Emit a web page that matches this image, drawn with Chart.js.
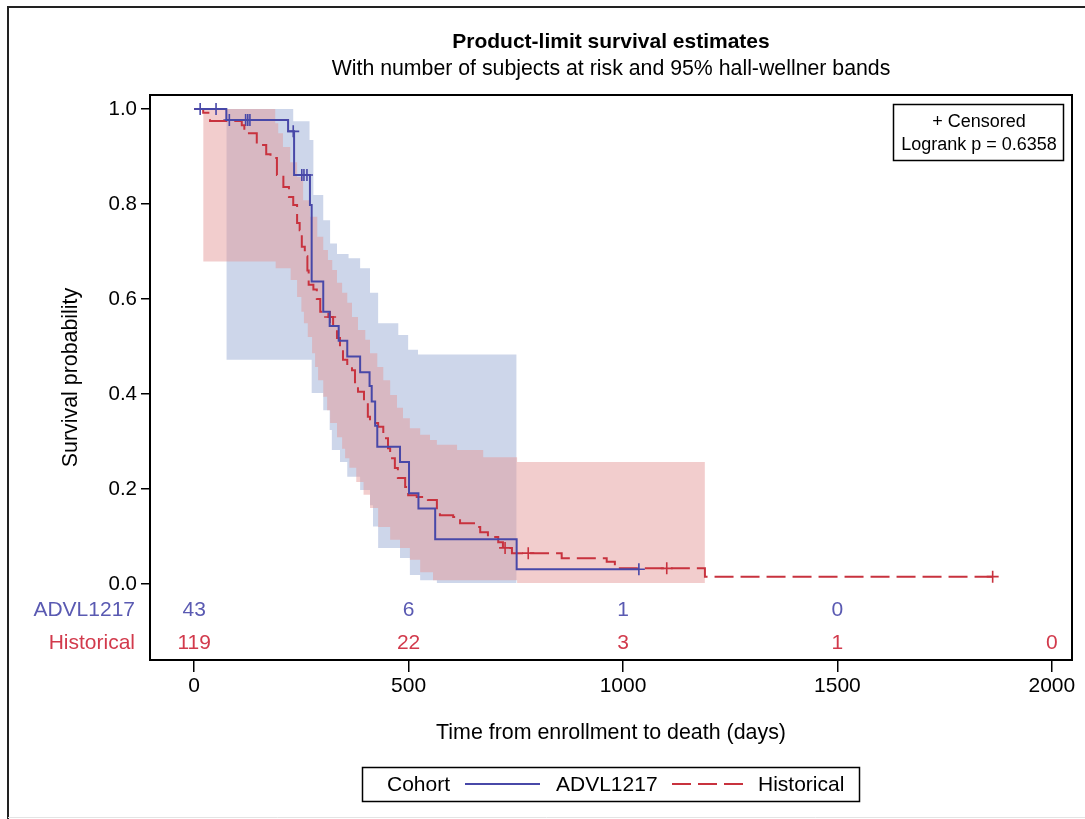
<!DOCTYPE html>
<html><head><meta charset="utf-8">
<script src="https://cdn.jsdelivr.net/npm/chart.js@4"></script>
<style>html,body{margin:0;padding:0;background:#fff;}#wrap{width:1085px;height:819px;}</style>
</head><body><div id="wrap"><canvas id="c" width="1085" height="819" style="width:1085px;height:819px"></canvas></div>
<script>
// ---- data ----
const xTicks = [0, 500, 1000, 1500, 2000];
const yTicks = [0, 0.2, 0.4, 0.6, 0.8, 1.0];
const riskTimes = [0, 500, 1000, 1500, 2000];
const riskADVL = [43, 6, 1, 0, null];
const riskHist = [119, 22, 3, 1, 0];

const advlTime = [0, 75, 219, 233, 270, 274, 301, 316, 337, 357, 387, 409, 414, 422, 427, 480, 501, 523, 562, 752, 1037];
const advlSurv = [1.0, 0.977, 0.953, 0.861, 0.798, 0.637, 0.573, 0.543, 0.512, 0.479, 0.446, 0.417, 0.384, 0.333, 0.289, 0.257, 0.191, 0.159, 0.094, 0.031, 0.031];
const advlCensTime = [14, 51, 82, 120, 125, 130, 231, 251, 256, 263, 1037];
const advlCensSurv = [1.0, 1.0, 0.977, 0.977, 0.977, 0.977, 0.953, 0.861, 0.861, 0.861, 0.031];

const histTime = [0, 21, 37, 111, 117, 146, 168, 178, 193, 208, 221, 231, 240, 246, 251, 258, 264, 267, 278, 286, 294, 313, 324, 333, 340, 347, 357, 368, 375, 382, 396, 405, 410, 429, 441, 452, 457, 468, 475, 492, 499, 519, 545, 566, 573, 604, 620, 655, 667, 685, 709, 720, 741, 857, 962, 981, 1191, 1862];
const histSurv = [1.0, 0.992, 0.975, 0.966, 0.949, 0.924, 0.905, 0.897, 0.861, 0.836, 0.815, 0.798, 0.76, 0.745, 0.71, 0.69, 0.66, 0.63, 0.62, 0.60, 0.573, 0.562, 0.539, 0.518, 0.493, 0.472, 0.461, 0.45, 0.425, 0.405, 0.383, 0.352, 0.339, 0.331, 0.307, 0.286, 0.265, 0.244, 0.223, 0.204, 0.187, 0.183, 0.177, 0.152, 0.145, 0.141, 0.128, 0.12, 0.109, 0.099, 0.088, 0.076, 0.065, 0.054, 0.047, 0.033, 0.0155, 0.0155];
const histCensTime = [317, 725, 779, 1102, 1862];
const histCensSurv = [0.562, 0.076, 0.065, 0.033, 0.0155];

const advlBandUpTime = [75, 231, 269, 278, 301, 317, 333, 360, 387, 410, 429, 476, 499, 522, 752];
const advlBandUp = [1.0, 0.974, 0.935, 0.819, 0.766, 0.717, 0.695, 0.686, 0.665, 0.613, 0.549, 0.524, 0.493, 0.483, 0.483];
const advlBandLoTime = [75, 274, 301, 316, 321, 340, 357, 387, 410, 417, 429, 480, 503, 527, 566, 752];
const advlBandLo = [0.472, 0.402, 0.366, 0.324, 0.282, 0.257, 0.226, 0.198, 0.166, 0.121, 0.076, 0.055, 0.019, 0.008, 0.002, 0.002];

const histBandUpTime = [21, 189, 196, 207, 224, 240, 254, 270, 287, 301, 312, 322, 333, 345, 357, 368, 382, 399, 410, 427, 441, 457, 473, 487, 503, 527, 550, 566, 613, 674, 753, 1191];
const histBandUp = [1.0, 0.97, 0.949, 0.92, 0.888, 0.857, 0.808, 0.773, 0.731, 0.703, 0.682, 0.661, 0.634, 0.613, 0.592, 0.562, 0.535, 0.514, 0.486, 0.457, 0.429, 0.398, 0.371, 0.349, 0.328, 0.314, 0.303, 0.293, 0.282, 0.267, 0.257, 0.257];
const histBandLoTime = [21, 190, 225, 240, 250, 256, 265, 275, 282, 289, 301, 310, 317, 333, 345, 352, 362, 378, 395, 410, 429, 457, 480, 503, 527, 557, 753, 1191];
const histBandLo = [0.679, 0.665, 0.64, 0.604, 0.573, 0.549, 0.52, 0.486, 0.457, 0.429, 0.394, 0.366, 0.339, 0.309, 0.285, 0.265, 0.245, 0.215, 0.188, 0.16, 0.12, 0.093, 0.076, 0.051, 0.025, 0.008, 0.002, 0.002];

// ---- styles ----
const FONT = "'Liberation Sans', Arial, Helvetica, sans-serif";
const BLUE = '#4848A8';
const RED = '#C8323E';
const BLUE_TXT = '#5A5AB2';
const RED_TXT = '#D23A4C';
const BLUE_BAND = 'rgb(205,214,234)';
const RED_BAND = 'rgba(228,151,151,0.48)';
const DASH = [19, 7];

const pts = (xs, ys) => xs.map((x, i) => ({x: x, y: ys[i]}));

const deco = {
  id: 'deco',
  afterDatasetsDraw(chart) {
    const ctx = chart.ctx, a = chart.chartArea;
    ctx.save();
    ctx.strokeStyle = '#000';
    ctx.lineWidth = 2;
    ctx.strokeRect(a.left, a.top, a.right - a.left, a.bottom - a.top);
    ctx.restore();
  },
  afterDraw(chart) {
    const ctx = chart.ctx, a = chart.chartArea;
    const xs = chart.scales.x;
    const cx = (a.left + a.right) / 2;
    ctx.save();
    // outer frame
    ctx.strokeStyle = '#222'; ctx.lineWidth = 2;
    ctx.beginPath(); ctx.moveTo(1085, 7); ctx.lineTo(8, 7); ctx.lineTo(8, 819); ctx.stroke();
    ctx.strokeStyle = '#e4e4e4'; ctx.lineWidth = 1;
    ctx.beginPath(); ctx.moveTo(8, 817.5); ctx.lineTo(1085, 817.5); ctx.stroke();
    // titles
    ctx.fillStyle = '#000'; ctx.textAlign = 'center'; ctx.textBaseline = 'middle';
    ctx.font = 'bold 21px ' + FONT;
    ctx.fillText('Product-limit survival estimates', cx, 42);
    ctx.font = '21.3px ' + FONT;
    ctx.fillText('With number of subjects at risk and 95% hall-wellner bands', cx, 69);
    // axis titles
    ctx.font = '21.4px ' + FONT;
    ctx.fillText('Time from enrollment to death (days)', cx, 733);
    ctx.save();
    ctx.translate(71, (a.top + a.bottom) / 2);
    ctx.rotate(-Math.PI / 2);
    ctx.fillText('Survival probability', 0, 0);
    ctx.restore();
    // inset box
    ctx.strokeStyle = '#000'; ctx.lineWidth = 1.5;
    ctx.strokeRect(893.5, 104.5, 170, 56);
    ctx.font = '18px ' + FONT;
    ctx.fillText('+ Censored', 979, 122);
    ctx.fillText('Logrank p = 0.6358', 979, 145);
    // at-risk table
    const row1 = 610, row2 = 643;
    ctx.font = '21px ' + FONT;
    ctx.textAlign = 'right';
    ctx.fillStyle = BLUE_TXT; ctx.fillText('ADVL1217', 135, row1);
    ctx.fillStyle = RED_TXT; ctx.fillText('Historical', 135, row2);
    ctx.textAlign = 'center';
    riskTimes.forEach((t, i) => {
      const px = xs.getPixelForValue(t);
      if (riskADVL[i] !== null) { ctx.fillStyle = BLUE_TXT; ctx.fillText(String(riskADVL[i]), px, row1); }
      if (riskHist[i] !== null) { ctx.fillStyle = RED_TXT; ctx.fillText(String(riskHist[i]), px, row2); }
    });
    // legend
    ctx.strokeStyle = '#000'; ctx.lineWidth = 1.5;
    ctx.strokeRect(362.5, 767.5, 497, 34);
    ctx.fillStyle = '#000'; ctx.textAlign = 'left'; ctx.font = '21px ' + FONT;
    ctx.fillText('Cohort', 387, 785);
    ctx.strokeStyle = BLUE; ctx.lineWidth = 2;
    ctx.beginPath(); ctx.moveTo(465, 784); ctx.lineTo(540, 784); ctx.stroke();
    ctx.fillText('ADVL1217', 556, 785);
    ctx.strokeStyle = RED; ctx.setLineDash(DASH);
    ctx.beginPath(); ctx.moveTo(672, 784); ctx.lineTo(748, 784); ctx.stroke();
    ctx.setLineDash([]);
    ctx.fillText('Historical', 758, 785);
    ctx.restore();
  }
};

const lineBase = {pointRadius: 0, stepped: 'before', fill: false, borderWidth: 2};
const bandBase = {pointRadius: 0, stepped: 'before', borderWidth: 0, borderColor: 'rgba(0,0,0,0)'};

new Chart(document.getElementById('c'), {
  type: 'line',
  data: {
    datasets: [
      Object.assign({label: 'ADVL1217', data: pts(advlTime, advlSurv), borderColor: BLUE}, lineBase),
      Object.assign({label: 'Historical', data: pts(histTime, histSurv), borderColor: RED, borderDash: DASH}, lineBase),
      {label: 'ADVL1217 censored', data: pts(advlCensTime, advlCensSurv), showLine: false, pointStyle: 'cross', pointRadius: 6, pointBorderWidth: 1.6, borderColor: BLUE, backgroundColor: BLUE},
      {label: 'Historical censored', data: pts(histCensTime, histCensSurv), showLine: false, pointStyle: 'cross', pointRadius: 6, pointBorderWidth: 1.6, borderColor: RED, backgroundColor: RED},
      Object.assign({label: 'Historical band upper', data: pts(histBandUpTime, histBandUp), fill: {target: '+1'}, backgroundColor: RED_BAND}, bandBase),
      Object.assign({label: 'Historical band lower', data: pts(histBandLoTime, histBandLo), fill: false}, bandBase),
      Object.assign({label: 'ADVL1217 band upper', data: pts(advlBandUpTime, advlBandUp), fill: {target: '+1'}, backgroundColor: BLUE_BAND}, bandBase),
      Object.assign({label: 'ADVL1217 band lower', data: pts(advlBandLoTime, advlBandLo), fill: false}, bandBase)
    ]
  },
  options: {
    responsive: false,
    animation: false,
    events: [],
    layout: {padding: {top: 95, right: 13, left: 0, bottom: 0}},
    plugins: {legend: {display: false}, tooltip: {enabled: false}, title: {display: false}},
    scales: {
      x: {
        type: 'linear', min: -103, max: 2047,
        afterBuildTicks: s => { s.ticks = xTicks.map(v => ({value: v})); },
        afterFit: s => { s.height = 159; },
        ticks: {font: {family: FONT, size: 21}, color: '#000', padding: 2, maxRotation: 0, autoSkip: false, callback: v => String(v)},
        grid: {drawOnChartArea: false, drawTicks: true, tickLength: 12, color: '#000', lineWidth: 1.5},
        border: {display: false}
      },
      y: {
        type: 'linear', min: -0.16, max: 1.0295,
        afterBuildTicks: s => { s.ticks = yTicks.map(v => ({value: v})); },
        afterFit: s => { s.width = 150; },
        ticks: {font: {family: FONT, size: 20.5}, color: '#000', padding: 4, autoSkip: false, callback: v => Number(v).toFixed(1)},
        grid: {drawOnChartArea: false, drawTicks: true, tickLength: 9, color: '#000', lineWidth: 1.5},
        border: {display: false}
      }
    }
  },
  plugins: [deco]
});
</script></body></html>
